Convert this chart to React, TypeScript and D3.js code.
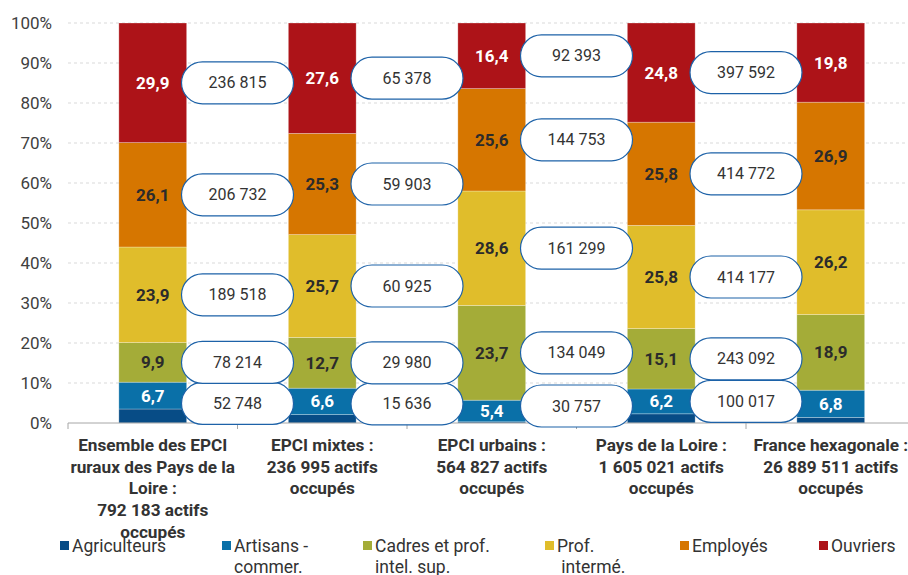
import React from "react"
import * as d3 from "d3"

// categories (x axis), one label line per array entry
const categories = ["rural", "mixte", "urbain", "pdl", "france"]
const categoryLines = [
  ["Ensemble des EPCI", "ruraux des Pays de la", "Loire :", "792 183 actifs", "occupés"],
  ["EPCI mixtes :", "236 995 actifs", "occupés"],
  ["EPCI urbains :", "564 827 actifs", "occupés"],
  ["Pays de la Loire :", "1 605 021 actifs", "occupés"],
  ["France hexagonale :", "26 889 511 actifs", "occupés"],
]

// shares in % per socio-professional group, one value per category
const agriculteurs = [3.5, 2.1, 0.3, 2.3, 1.4]
const artisans = [6.7, 6.6, 5.4, 6.2, 6.8]
const cadres = [9.9, 12.7, 23.7, 15.1, 18.9]
const profInter = [23.9, 25.7, 28.6, 25.8, 26.2]
const employes = [26.1, 25.3, 25.6, 25.8, 26.9]
const ouvriers = [29.9, 27.6, 16.4, 24.8, 19.8]

// headcounts shown in the callouts (artisans, cadres, prof., employés, ouvriers)
const countsRural = [52748, 78214, 189518, 206732, 236815]
const countsMixte = [15636, 29980, 60925, 59903, 65378]
const countsUrbain = [30757, 134049, 161299, 144753, 92393]
const countsPdl = [100017, 243092, 414177, 414772, 397592]

const yTicks = [0, 10, 20, 30, 40, 50, 60, 70, 80, 90, 100]

const series = [
  { name: "Agriculteurs", lines: ["Agriculteurs"], values: agriculteurs, color: "#074c86", text: null },
  { name: "Artisans", lines: ["Artisans -", "commer."], values: artisans, color: "#0a70a8", text: "#ffffff" },
  { name: "Cadres", lines: ["Cadres et prof.", "intel. sup."], values: cadres, color: "#a4ac38", text: "#2b2b2b" },
  { name: "Prof", lines: ["Prof.", " intermé."], values: profInter, color: "#e0bd2b", text: "#2b2b2b" },
  { name: "Employes", lines: ["Employés"], values: employes, color: "#d67600", text: "#2b2b2b" },
  { name: "Ouvriers", lines: ["Ouvriers"], values: ouvriers, color: "#ad1318", text: "#ffffff" },
]
const legendX = [60, 222, 363, 545, 680, 819]
const calloutCounts = [countsRural, countsMixte, countsUrbain, countsPdl]

const W = 908
const H = 575
const FONT = "Roboto, 'Noto Sans', sans-serif"

const fmtPct = (v: number) => v.toFixed(1).replace(".", ",")
const fmtCount = (v: number) => d3.format(",")(v).replace(/,/g, " ")

export default function App() {
  const x = d3
    .scaleBand<string>()
    .domain(categories)
    .range([68, 915.5])
    .paddingInner(0.6)
    .paddingOuter(0.3)
  const y = d3.scaleLinear().domain([0, 100]).range([423, 23])

  // stack the groups bottom to top
  const table = categories.map((c, i) => {
    const row: any = { cat: c }
    series.forEach((s) => (row[s.name] = s.values[i]))
    return row
  })
  const stacked = d3.stack<any>().keys(series.map((s) => s.name))(table)

  const step = x.step()
  const bw = x.bandwidth()
  const boundaries = d3.range(categories.length + 1).map((i) => 68 + i * step)

  // callout y positions: middle of each segment, pushed apart when too close
  const callouts = calloutCounts.map((counts, ci) => {
    const mids = counts.map((_, k) => {
      const seg = stacked[k + 1][ci]
      return y((seg[0] + seg[1]) / 2)
    })
    const pos = mids.slice()
    for (let k = pos.length - 2; k >= 0; k--) {
      if (pos[k] - pos[k + 1] < 41) pos[k] = pos[k + 1] + 41
    }
    if (pos[0] > 406) pos[0] = 406
    for (let k = 1; k < pos.length; k++) {
      if (pos[k - 1] - pos[k] < 38) pos[k] = pos[k - 1] - 38
    }
    const cx = (x(categories[ci]) as number) + bw / 2 + step / 2
    return counts.map((v, k) => ({ cx, cy: pos[k], v }))
  })

  return (
    <svg
      width={W}
      height={H}
      style={{ position: "absolute", left: 0, top: 0, background: "#fff" }}
      fontFamily={FONT}
    >
      {/* grid */}
      {yTicks.map((t) => (
        <g key={t}>
          {t > 0 && (
            <line x1={68} x2={W} y1={y(t)} y2={y(t)} stroke="#d9d9d9" strokeDasharray="3,3" />
          )}
          <text x={52} y={y(t)} dy="0.35em" textAnchor="end" fontSize={17} fill="#404040">
            {t}%
          </text>
        </g>
      ))}

      {/* bars */}
      {stacked.map((layer, si) =>
        layer.map((d, ci) => (
          <rect
            key={si + "-" + ci}
            x={x(categories[ci])}
            width={bw}
            y={y(d[1])}
            height={y(d[0]) - y(d[1])}
            fill={series[si].color}
            stroke="#ffffff"
            strokeOpacity={0.35}
            strokeWidth={0.8}
          />
        ))
      )}

      {/* value labels */}
      {stacked.map((layer, si) =>
        series[si].text
          ? layer.map((d, ci) => (
              <text
                key={"v" + si + "-" + ci}
                x={(x(categories[ci]) as number) + bw / 2}
                y={y((d[0] + d[1]) / 2)}
                dy="0.35em"
                textAnchor="middle"
                fontSize={17}
                fontWeight="bold"
                fill={series[si].text as string}
              >
                {fmtPct(d[1] - d[0])}
              </text>
            ))
          : null
      )}

      {/* baseline + ticks */}
      <line x1={68} x2={W} y1={y(0)} y2={y(0)} stroke="#a6a6a6" />
      {boundaries.map((b, i) => (
        <line key={i} x1={b} x2={b} y1={y(0)} y2={y(0) + 6} stroke="#a6a6a6" />
      ))}

      {/* callouts */}
      {callouts.map((list, ci) =>
        list.map((c, k) => (
          <g key={"c" + ci + "-" + k}>
            <rect
              x={c.cx - 56}
              y={c.cy - 21}
              width={112}
              height={42}
              rx={21}
              fill="#ffffff"
              stroke="#1d62a8"
              strokeWidth={1.2}
            />
            <text x={c.cx} y={c.cy} dy="0.35em" textAnchor="middle" fontSize={16} fill="#333">
              {fmtCount(c.v)}
            </text>
          </g>
        ))
      )}

      {/* category labels */}
      {categoryLines.map((lines, ci) => (
        <text
          key={"x" + ci}
          textAnchor="middle"
          fontSize={17.2}
          fontWeight="bold"
          fill="#333"
        >
          {lines.map((l, li) => (
            <tspan key={li} x={(x(categories[ci]) as number) + bw / 2} y={451 + li * 21.7}>
              {l}
            </tspan>
          ))}
        </text>
      ))}

      {/* legend */}
      {series.map((s, i) => (
        <g key={"l" + s.name}>
          <rect x={legendX[i]} y={541} width={9} height={9} fill={s.color} />
          <text fontSize={17.5} fill="#333">
            {s.lines.map((l, li) => (
              <tspan key={li} x={legendX[i] + 12} y={552 + li * 21}>
                {l}
              </tspan>
            ))}
          </text>
        </g>
      ))}
    </svg>
  )
}
